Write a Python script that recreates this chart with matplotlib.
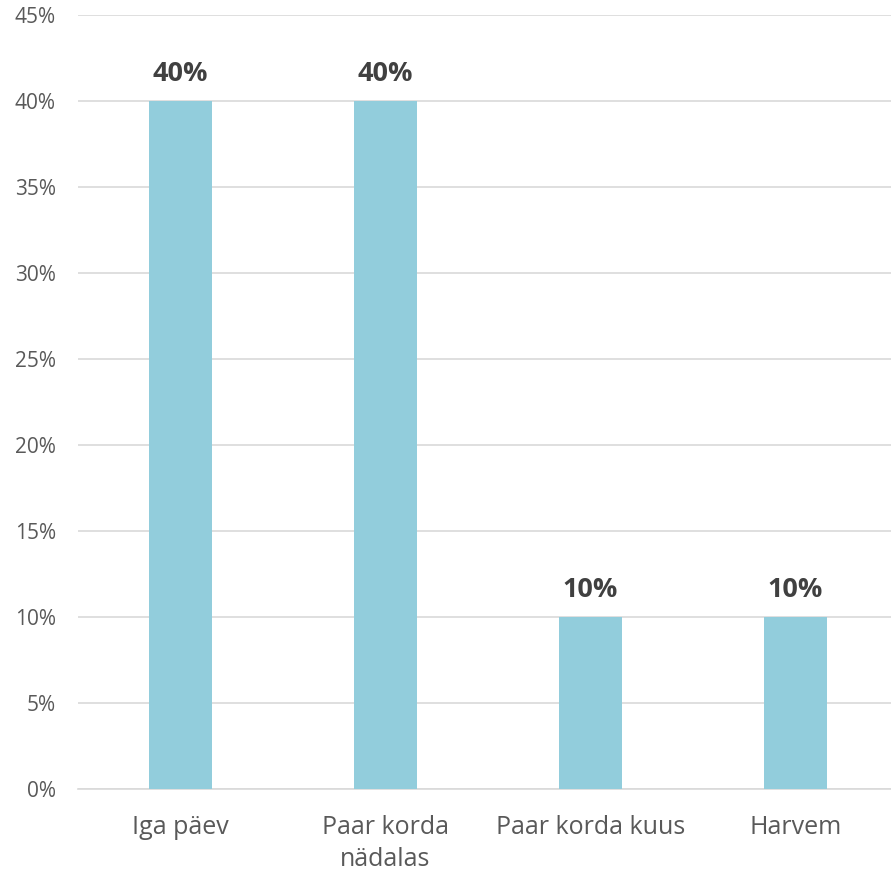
import matplotlib.pyplot as plt
from matplotlib.ticker import PercentFormatter

categories = ["Iga päev", "Paar korda\nnädalas", "Paar korda kuus", "Harvem"]
values = [40, 40, 10, 10]
yticks = [0, 5, 10, 15, 20, 25, 30, 35, 40, 45]

plt.rcParams['font.family'] = ['Open Sans', 'DejaVu Sans']

fig = plt.figure(figsize=(8.91, 8.74), dpi=100)
ax = fig.add_axes([78 / 891, 85 / 874, 1 - 78 / 891, 774 / 874])

x = range(len(categories))
ax.bar(x, values, width=0.31, color="#92CDDC", zorder=3)

for xi, v in zip(x, values):
    ax.text(xi, v + 0.8, f"{v}%", ha="center", va="bottom",
            fontsize=19.5, fontweight="bold", color="#404040")

ax.set_ylim(0, 45)
ax.set_xlim(-0.5, (891 - 78) / 205 - 0.5)
ax.set_yticks(yticks)
ax.yaxis.set_major_formatter(PercentFormatter(decimals=0))
ax.set_xticks(list(x))
ax.set_xticklabels(categories, linespacing=1.35)
ax.grid(axis="y", color="#d9d9d9", lw=1.2, zorder=0)

for s in ["top", "right", "left"]:
    ax.spines[s].set_visible(False)
ax.spines["bottom"].set_color("#d9d9d9")
ax.spines["bottom"].set_linewidth(1.2)

ax.tick_params(axis="y", length=0, labelsize=15, labelcolor="#595959", pad=16)
ax.tick_params(axis="x", length=0, labelsize=18, labelcolor="#595959", pad=19)

plt.savefig("out.png", dpi=100)
plt.close(fig)
